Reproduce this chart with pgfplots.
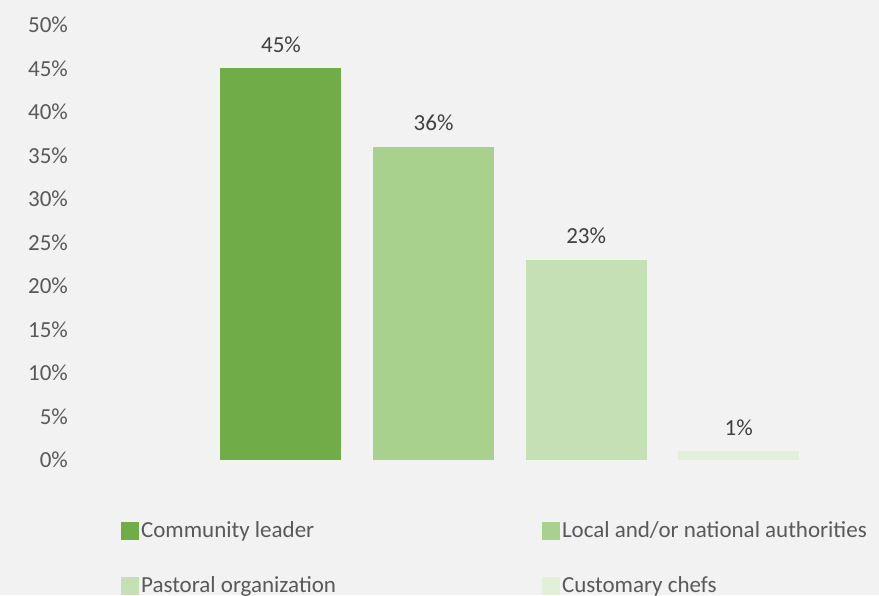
\documentclass[border=0pt]{standalone}
\usepackage{pgfplots}
\pgfplotsset{compat=1.18}
\usepackage{fontspec}
\setmainfont{Carlito}
\definecolor{bg}{HTML}{F2F2F2}
\definecolor{ca}{HTML}{70AD47}
\definecolor{cb}{HTML}{A9D18E}
\definecolor{cc}{HTML}{C5E0B4}
\definecolor{cd}{HTML}{E2F0D9}
\definecolor{tick}{HTML}{595959}
\definecolor{lab}{HTML}{404040}
\begin{document}
\fontsize{11.5}{14}\selectfont
\begin{tikzpicture}
\fill[bg] (0,0) rectangle (439.5pt,297.5pt);
\begin{axis}[
  at={(37.5pt,67.5pt)}, anchor=south west,
  scale only axis, width=397.5pt, height=217.5pt,
  xmin=-1.35, xmax=3.86, ymin=0, ymax=50,
  ybar, bar width=60.5pt, bar shift=0pt,
  xtick=\empty,
  ytick={0,5,...,50},
  yticklabel={\pgfmathprintnumber{\tick}\%},
  /pgf/number format/assume math mode=true,
  yticklabel style={text=tick, font=\fontsize{11.5}{14}\selectfont, xshift=0.5pt},
  axis line style={draw=none},
  major tick style={draw=none},
  nodes near coords={\pgfmathprintnumber{\pgfplotspointmeta}\%},
  nodes near coords style={text=lab, font=\fontsize{11.5}{14}\selectfont, yshift=4pt},
  legend columns=2,
  legend style={at={(0.058,-0.136)}, anchor=north west, draw=none, fill=none,
    inner sep=0pt, outer sep=0pt, text=tick, font=\fontsize{11.5}{14}\selectfont,
    nodes={inner xsep=1pt, inner ysep=1pt},
    /tikz/every even column/.append style={column sep=102pt},
    row sep=16pt},
  legend cell align=left,
  legend image code/.code={\fill[#1] (0pt,-4.5pt) rectangle (9pt,4.5pt);},
]
\addplot[fill=ca, draw=none] coordinates {(0,45)};
\addlegendentry{Community leader}
\addplot[fill=cb, draw=none] coordinates {(1,36)};
\addlegendentry{Local and/or national authorities}
\addplot[fill=cc, draw=none] coordinates {(2,23)};
\addlegendentry{Pastoral organization}
\addplot[fill=cd, draw=none] coordinates {(3,1)};
\addlegendentry{Customary chefs}
\end{axis}
\pgfresetboundingbox
\path[use as bounding box] (0,0) rectangle (439.5pt,297.5pt);
\end{tikzpicture}
\end{document}
